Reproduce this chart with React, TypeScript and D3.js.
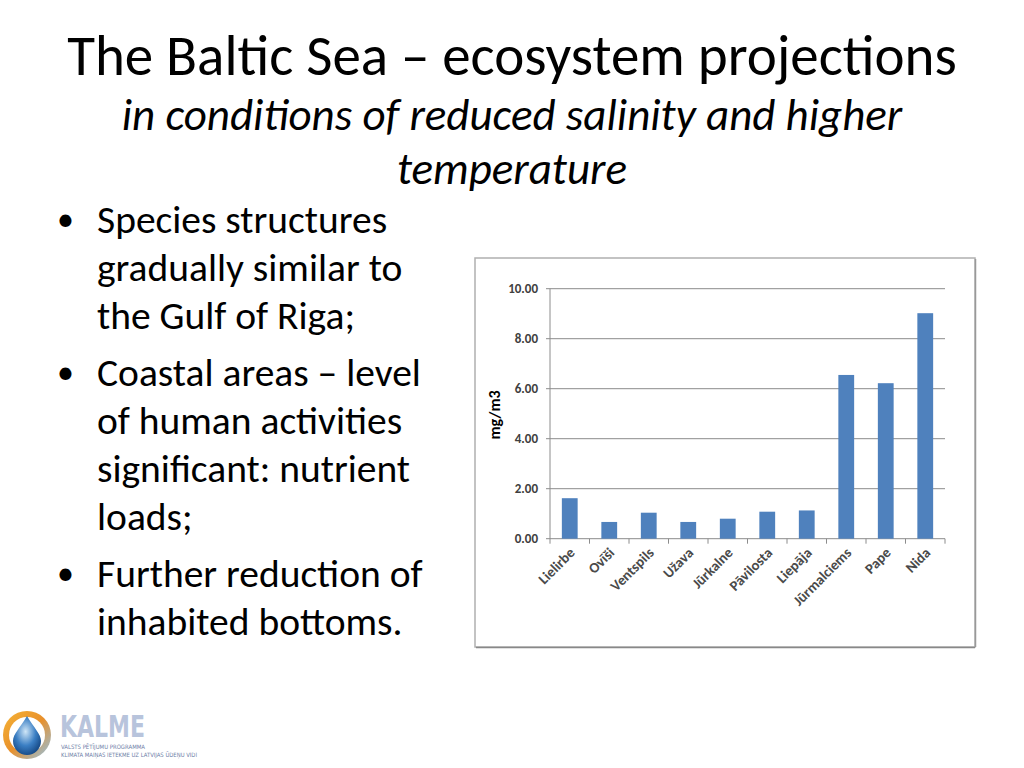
import * as d3 from 'd3';

const sites = ['Lielirbe', 'Ovīši', 'Ventspils', 'Užava', 'Jūrkalne', 'Pāvilosta', 'Liepāja', 'Jūrmalciems', 'Pape', 'Nida'];
const values = [1.62, 0.67, 1.04, 0.67, 0.8, 1.08, 1.13, 6.55, 6.22, 9.02];
const yTicks = [0, 2, 4, 6, 8, 10];

const bullets = [
  ['Species structures', 'gradually similar to', 'the Gulf of Riga;'],
  ['Coastal areas – level', 'of human activities', 'significant: nutrient', 'loads;'],
  ['Further reduction of', 'inhabited bottoms.'],
];

const font = 'Calibri, Carlito, "Open Sans", sans-serif';

const App = () => {
  const x = d3.scaleBand<string>().domain(sites).range([550, 945]).paddingInner(0.6).paddingOuter(0.3);
  const y = d3.scaleLinear().domain([0, 10]).range([538.7, 288.7]);
  const step = x.step();

  let lineY = 233;
  const bulletRows: { text: string; y: number; first: boolean }[] = [];
  bullets.forEach((b) => {
    b.forEach((t, i) => {
      bulletRows.push({ text: t, y: lineY, first: i === 0 });
      lineY += 48;
    });
    lineY += 9;
  });

  return (
    <svg width={1024} height={768} style={{ position: 'absolute', left: 0, top: 0 }} fontFamily={font}>
      <defs>
        <radialGradient id='drop' cx='0.45' cy='0.4' r='0.6'>
          <stop offset='0%' stopColor='#cfe6f7' />
          <stop offset='60%' stopColor='#3b7fc4' />
          <stop offset='100%' stopColor='#1a4f8c' />
        </radialGradient>
        <linearGradient id='ring' x1='0' y1='0' x2='1' y2='1'>
          <stop offset='0%' stopColor='#f5b335' />
          <stop offset='50%' stopColor='#e8902c' />
          <stop offset='100%' stopColor='#8fc3e8' />
        </linearGradient>
      </defs>
      <rect width={1024} height={768} fill='#fff' />
      <text x={512} y={75} textAnchor='middle' fontSize={57} fill='#000'>
        The Baltic Sea – ecosystem projections
      </text>
      <text x={512} y={130} textAnchor='middle' fontSize={45} fontStyle='italic' fill='#000'>
        in conditions of reduced salinity and higher
      </text>
      <text x={512} y={184} textAnchor='middle' fontSize={45} fontStyle='italic' fill='#000'>
        temperature
      </text>

      {bulletRows.map((r, i) => (
        <g key={i}>
          {r.first && (
            <text x={57} y={r.y - 2} fontSize={34}>
              •
            </text>
          )}
          <text x={97} y={r.y} fontSize={39.5} fill='#000'>
            {r.text}
          </text>
        </g>
      ))}

      {/* chart frame */}
      <rect x={475} y={258} width={500} height={389} fill='#fff' stroke='#b0b0b0' strokeWidth={1.5} />
      <line x1={476} y1={647.5} x2={975} y2={647.5} stroke='#888' strokeWidth={1.5} />
      <line x1={975.5} y1={259} x2={975.5} y2={647} stroke='#999' strokeWidth={1.5} />

      {yTicks.map((t) => (
        <g key={t}>
          <line x1={546} x2={945} y1={y(t)} y2={y(t)} stroke='#8c8c8c' strokeWidth={1} />
          <text x={538} y={y(t) + 4.5} textAnchor='end' fontSize={13} fill='#404040' fontWeight='bold'>
            {t.toFixed(2)}
          </text>
        </g>
      ))}
      <line x1={550} x2={550} y1={y(10)} y2={y(0) + 5} stroke='#8c8c8c' />
      {sites.map((s, i) => (
        <line
          key={s}
          x1={550 + step * (i + 1)}
          x2={550 + step * (i + 1)}
          y1={y(0)}
          y2={y(0) + 5}
          stroke='#8c8c8c'
        />
      ))}

      {sites.map((s, i) => (
        <rect key={s} x={x(s)} y={y(values[i])} width={x.bandwidth()} height={y(0) - y(values[i])} fill='#4f81bd' />
      ))}

      {sites.map((s) => {
        const cx = (x(s) ?? 0) + x.bandwidth() / 2 + 6;
        const cy = y(0) + 15;
        return (
          <text
            key={s}
            x={cx}
            y={cy}
            textAnchor='end'
            fontSize={14.5}
            fontWeight='bold'
            fill='#4a4a4a'
            transform={`rotate(-45 ${cx} ${cy})`}
          >
            {s}
          </text>
        );
      })}

      <text
        x={0}
        y={0}
        transform='translate(500 415) rotate(-90)'
        textAnchor='middle'
        fontSize={16}
        fontWeight='bold'
        fill='#000'
      >
        mg/m3
      </text>

      {/* logo */}
      <circle cx={27} cy={735} r={24} fill='url(#ring)' />
      <circle cx={27} cy={735} r={18} fill='#fff' />
      <path d='M27 716 C 20 728, 13 734, 13 741 A 14 14 0 0 0 41 741 C 41 734, 34 728, 27 716 Z' fill='url(#drop)' />
      <text
        x={60}
        y={737}
        fontSize={30}
        fontWeight='bold'
        fill='#b8c4dc'
        textLength={85}
        lengthAdjust='spacingAndGlyphs'
        fontFamily='"Liberation Sans Narrow", "DejaVu Sans Condensed", sans-serif'
      >
        KALME
      </text>
      <text x={61} y={749} fontSize={6} fill='#6f7fa8' textLength={84} lengthAdjust='spacingAndGlyphs' fontFamily='"DejaVu Sans Condensed", sans-serif'>
        VALSTS PĒTĪJUMU PROGRAMMA
      </text>
      <text x={61} y={757} fontSize={6} fill='#6f7fa8' textLength={136} lengthAdjust='spacingAndGlyphs' fontFamily='"DejaVu Sans Condensed", sans-serif'>
        KLIMATA MAIŅAS IETEKME UZ LATVIJAS ŪDEŅU VIDI
      </text>
    </svg>
  );
};

export default App;
